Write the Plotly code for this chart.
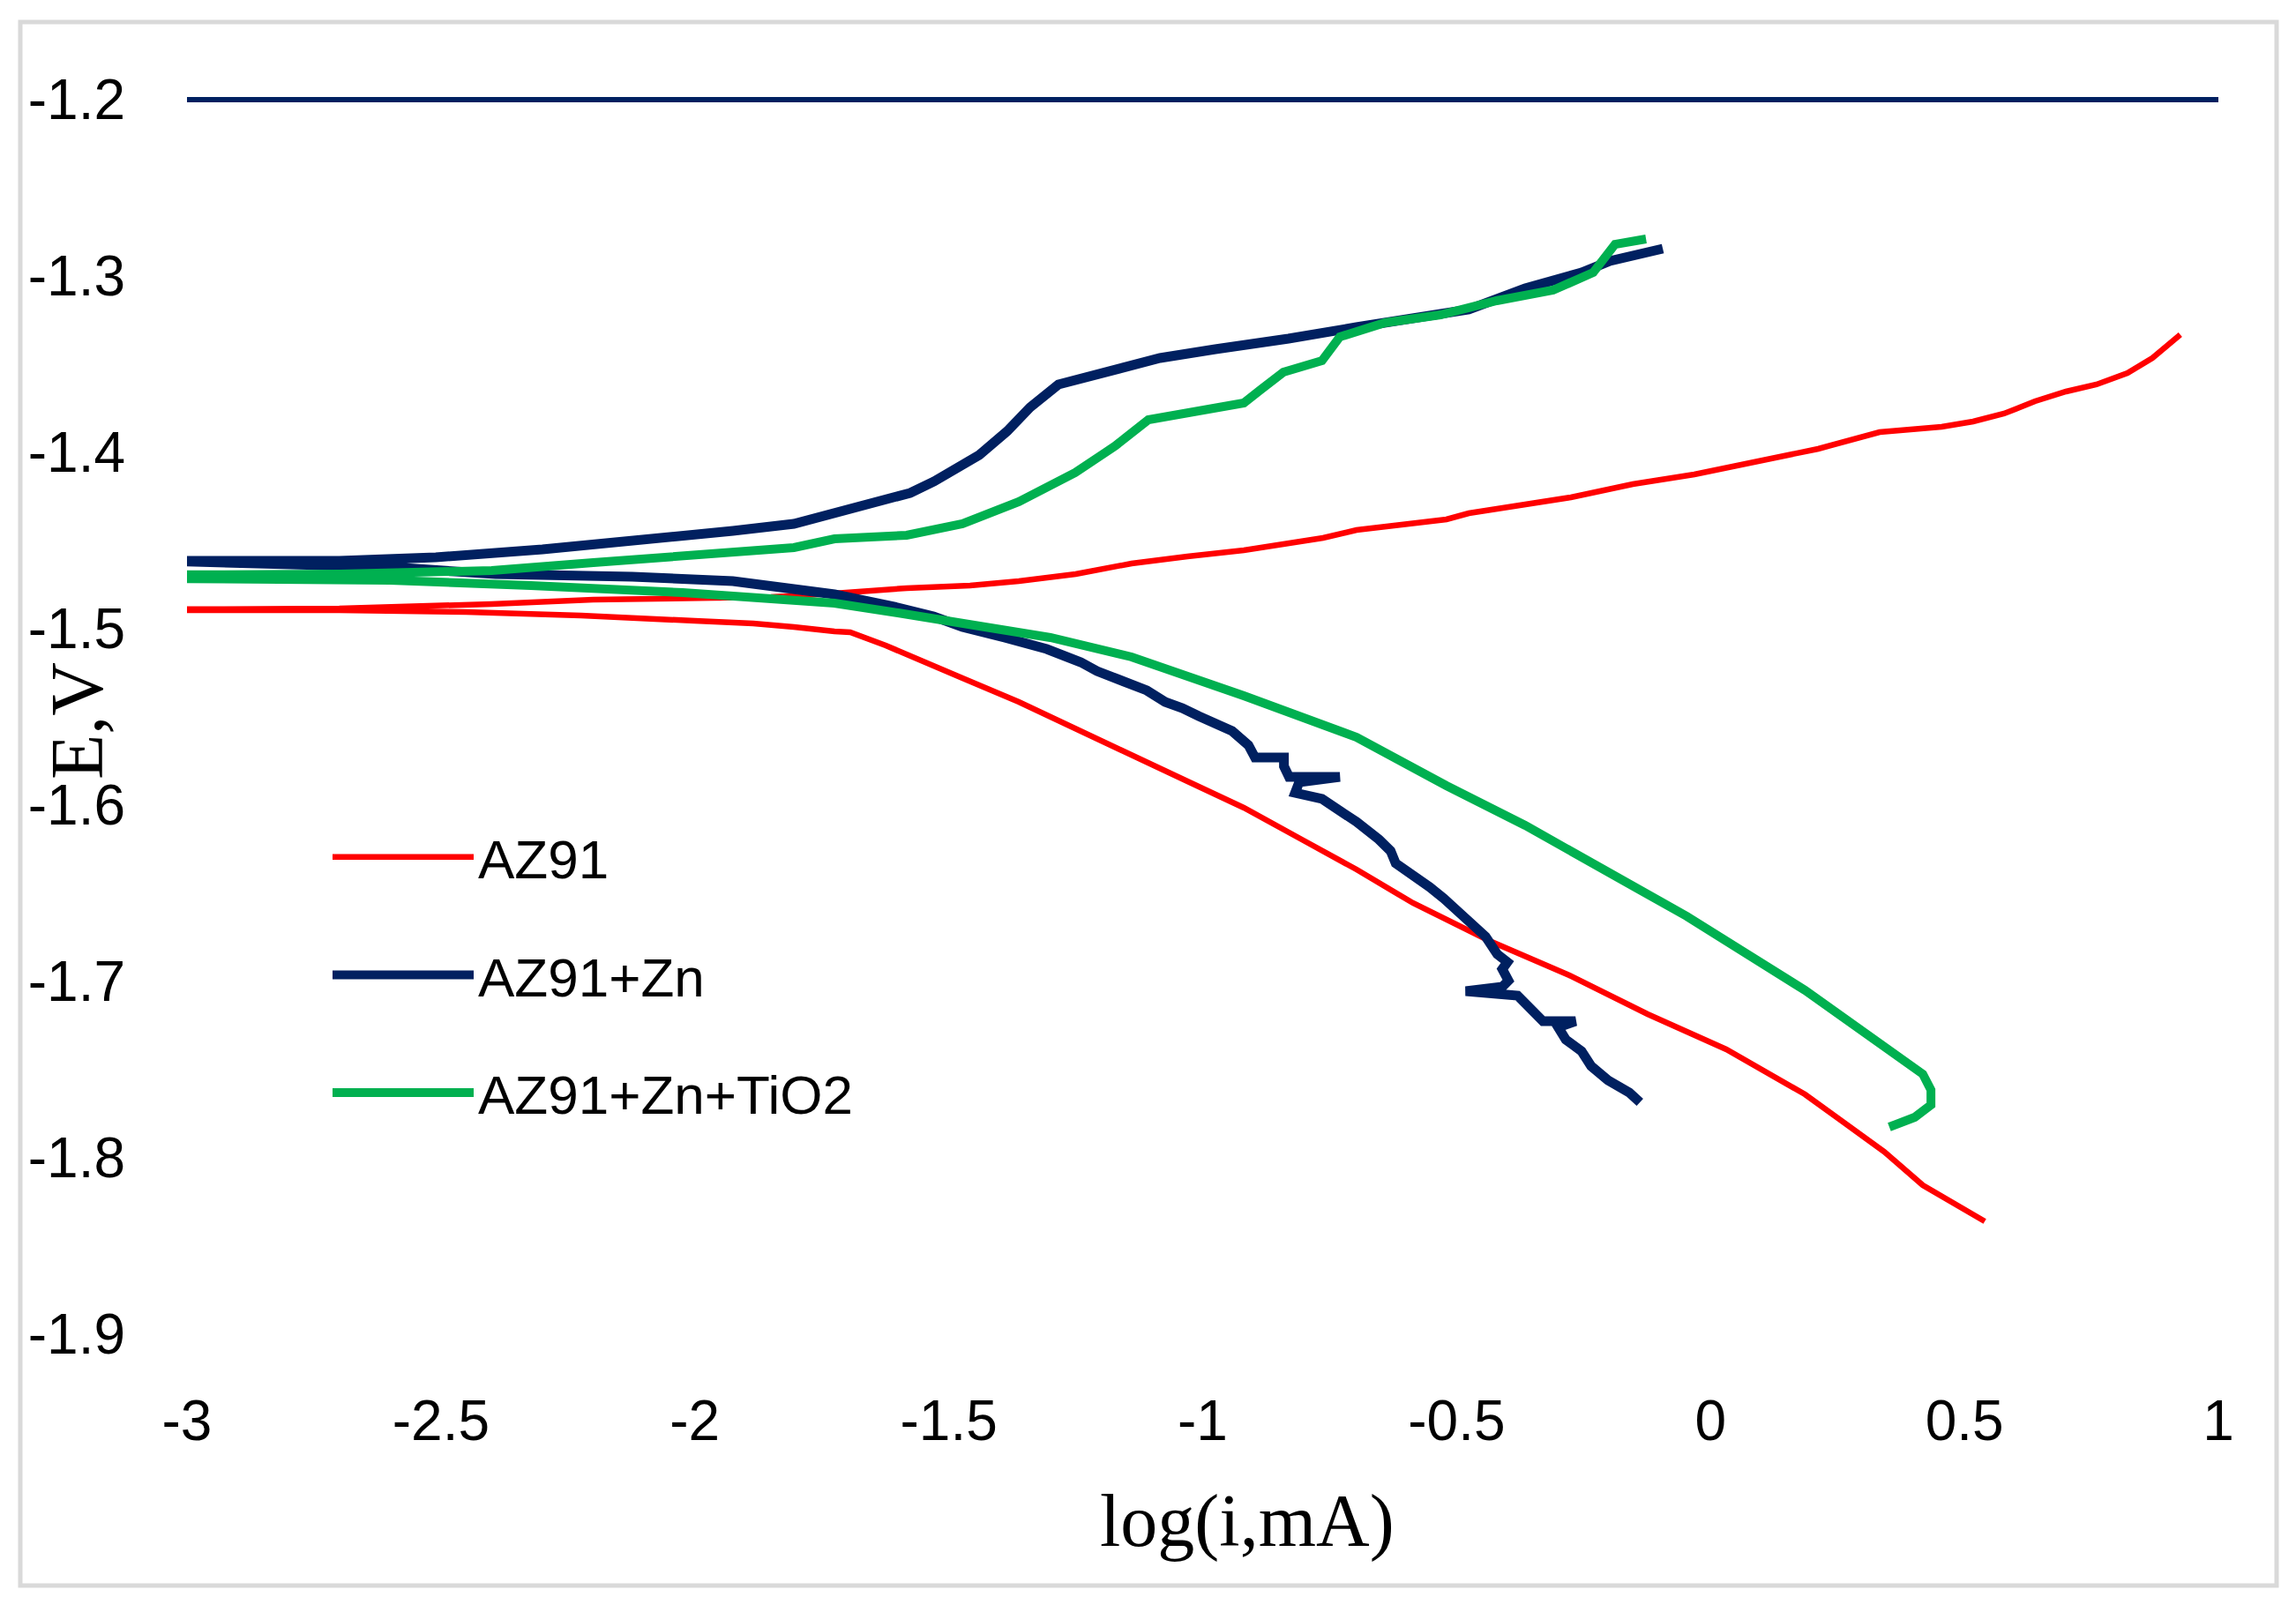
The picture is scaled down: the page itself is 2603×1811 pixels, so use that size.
import plotly.graph_objects as go

# ---------------- data ----------------
series_names = ["AZ91", "AZ91+Zn", "AZ91+Zn+TiO2"]
series_colors = ["#FF0000", "#002060", "#00B050"]

az91_x = [0.540, 0.418, 0.342, 0.264, 0.186, 0.031, -0.124, -0.278, -0.435, -0.586,
          -0.697, -0.808, -0.919, -1.030, -1.140, -1.251, -1.362, -1.473, -1.525, -1.583,
          -1.624, -1.694, -1.725, -1.805, -1.885, -2.000, -2.224, -2.450, -2.700, -3.050,
          -3.050, -2.700, -2.400, -2.200, -2.000, -1.850, -1.727, -1.583, -1.458, -1.362,
          -1.250, -1.140, -1.030, -0.919, -0.763, -0.697, -0.520, -0.476, -0.275, -0.153,
          -0.032, 0.090, 0.212, 0.333, 0.455, 0.517, 0.578, 0.639, 0.700, 0.760,
          0.821, 0.870, 0.925]
az91_y = [-1.8360, -1.8155, -1.7965, -1.7805, -1.7640, -1.7385, -1.7185, -1.6965, -1.6770, -1.6555,
          -1.6365, -1.6190, -1.6015, -1.5865, -1.5715, -1.5570, -1.5415, -1.5280, -1.5215, -1.5145,
          -1.5095, -1.5020, -1.5015, -1.4990, -1.4970, -1.4955, -1.4925, -1.4905, -1.4895, -1.4895,
          -1.4890, -1.4885, -1.4860, -1.4835, -1.4825, -1.4820, -1.4800, -1.4770, -1.4755, -1.4730,
          -1.4690, -1.4630, -1.4590, -1.4555, -1.4485, -1.4440, -1.4380, -1.4345, -1.4255, -1.4180,
          -1.4125, -1.4055, -1.3980, -1.3885, -1.3855, -1.3825, -1.3780, -1.3710, -1.3655, -1.3615,
          -1.3550, -1.3465, -1.3333]

zn_x = [-0.139, -0.160, -0.202, -0.235, -0.254, -0.285, -0.300, -0.266, -0.330, -0.365,
        -0.380, -0.482, -0.410, -0.398, -0.410, -0.400, -0.420, -0.443, -0.470, -0.497,
        -0.525, -0.553, -0.590, -0.620, -0.630, -0.653, -0.697, -0.730, -0.765, -0.818,
        -0.810, -0.730, -0.830, -0.840, -0.840, -0.897, -0.910, -0.942, -0.975, -1.008,
        -1.040, -1.074, -1.110, -1.140, -1.180, -1.208, -1.240, -1.307, -1.390, -1.473,
        -1.530, -1.600, -1.725, -1.925, -2.123, -2.392, -2.600, -2.800, -3.050,
        -3.050, -2.700, -2.510, -2.300, -2.163, -1.925, -1.805, -1.725, -1.638, -1.576,
        -1.529, -1.440, -1.385, -1.340, -1.284, -1.195, -1.084, -0.975, -0.900, -0.831,
        -0.697, -0.586, -0.476, -0.365, -0.254, -0.198, -0.094]
zn_y = [-1.7685, -1.7630, -1.7560, -1.7480, -1.7395, -1.7330, -1.7260, -1.7225, -1.7225, -1.7130,
        -1.7080, -1.7055, -1.7030, -1.6995, -1.6930, -1.6890, -1.6845, -1.6745, -1.6670, -1.6595,
        -1.6530, -1.6465, -1.6390, -1.6330, -1.6260, -1.6195, -1.6095, -1.6030, -1.5965, -1.5930,
        -1.5870, -1.5840, -1.5840, -1.5780, -1.5730, -1.5730, -1.5660, -1.5580, -1.5530, -1.5495,
        -1.5450, -1.5415, -1.5350, -1.5320, -1.5270, -1.5240, -1.5190, -1.5115, -1.5050, -1.4990,
        -1.4930, -1.4880, -1.4805, -1.4730, -1.4705, -1.4690, -1.4650, -1.4635, -1.4630,
        -1.4615, -1.4615, -1.4595, -1.4550, -1.4515, -1.4445, -1.4405, -1.4345, -1.4280, -1.4230,
        -1.4165, -1.4015, -1.3880, -1.3745, -1.3615, -1.3545, -1.3465, -1.3415, -1.3390, -1.3355,
        -1.3290, -1.3240, -1.3190, -1.3070, -1.2980, -1.2915, -1.2845]

tio2_x = [0.352, 0.402, 0.434, 0.434, 0.418, 0.342, 0.186, -0.047, -0.198, -0.365,
          -0.520, -0.697, -0.919, -1.140, -1.300, -1.473, -1.600, -1.725, -2.024, -2.323,
          -2.600, -3.050,
          -3.050, -2.700, -2.400, -2.200, -2.024, -1.805, -1.725, -1.583, -1.473, -1.362,
          -1.251, -1.173, -1.107, -1.030, -0.919, -0.886, -0.841, -0.765, -0.730, -0.641,
          -0.532, -0.421, -0.310, -0.231, -0.188, -0.127]
tio2_y = [-1.7825, -1.7770, -1.7700, -1.7615, -1.7525, -1.7370, -1.7050, -1.6630, -1.6380, -1.6115,
          -1.5890, -1.5615, -1.5380, -1.5160, -1.5050, -1.4965, -1.4910, -1.4855, -1.4795, -1.4755,
          -1.4725, -1.4715,
          -1.4695, -1.4690, -1.4670, -1.4625, -1.4590, -1.4540, -1.4490, -1.4470, -1.4405, -1.4280,
          -1.4115, -1.3965, -1.3815, -1.3780, -1.3720, -1.3645, -1.3545, -1.3480, -1.3345, -1.3265,
          -1.3220, -1.3140, -1.3080, -1.2980, -1.2820, -1.2790]

series_x = [az91_x, zn_x, tio2_x]
series_y = [az91_y, zn_y, tio2_y]
series_widths = [6.5, 11, 10]

x_tickvals = [-3, -2.5, -2, -1.5, -1, -0.5, 0, 0.5, 1]
x_ticktext = ["-3", "-2.5", "-2", "-1.5", "-1", "-0.5", "0", "0.5", "1"]
y_tickvals = [-1.2, -1.3, -1.4, -1.5, -1.6, -1.7, -1.8, -1.9]
y_ticktext = ["-1.2", "-1.3", "-1.4", "-1.5", "-1.6", "-1.7", "-1.8", "-1.9"]

x_title = "log(i,mA)"
y_title = "E,V"
axis_line_value = -1.2

# ---------------- figure ----------------
W, H = 2603, 1811
L, R, T, B = 212, 88, 73, 298
y_range = [-1.9, -1.18]
x_range = [-3, 1]

fig = go.Figure()
for name, xs, ys, col, w in zip(series_names, series_x, series_y, series_colors, series_widths):
    fig.add_trace(go.Scatter(x=xs, y=ys, mode="lines", name=name, legendgroup=name,
                             line=dict(color=col, width=w)))

# horizontal axis line at E = -1.2 (navy)
fig.add_shape(type="line", xref="x", yref="y", x0=x_range[0], x1=x_range[1],
              y0=axis_line_value, y1=axis_line_value,
              line=dict(color="#002060", width=6), layer="above")

pw = W - L - R
ph = H - T - B
def px2paper_x(px):
    return (px - L) / pw
def px2paper_y(py):
    return (H - B - py) / ph

# outer chart border
fig.add_shape(type="rect", xref="paper", yref="paper",
              x0=px2paper_x(23), x1=px2paper_x(2581), y0=px2paper_y(1798), y1=px2paper_y(25),
              line=dict(color="#D9D9D9", width=5), fillcolor="rgba(0,0,0,0)", layer="below")

fig.add_annotation(text=x_title, xref="paper", yref="paper", x=px2paper_x(1414), y=px2paper_y(1725),
                   showarrow=False, xanchor="center", yanchor="middle",
                   font=dict(family="Liberation Serif, Times New Roman, serif", size=84, color="black"))
fig.add_annotation(text=y_title, xref="paper", yref="paper", x=px2paper_x(87), y=px2paper_y(818),
                   showarrow=False, textangle=-90, xanchor="center", yanchor="middle",
                   font=dict(family="Liberation Serif, Times New Roman, serif", size=84, color="black"))

tick_font = dict(family="Liberation Sans, Arial, sans-serif", size=64, color="black")
fig.update_xaxes(range=x_range, tickvals=x_tickvals, ticktext=x_ticktext, showgrid=False,
                 zeroline=False, showline=False, ticks="", tickfont=tick_font,
                 ticklabelstandoff=55)
fig.update_yaxes(range=y_range, tickvals=y_tickvals, ticktext=y_ticktext, showgrid=False,
                 zeroline=False, showline=False, ticks="", tickfont=tick_font,
                 ticklabelstandoff=69)

fig.update_layout(
    width=W, height=H,
    margin=dict(l=L, r=R, t=T, b=B, autoexpand=False),
    paper_bgcolor="white", plot_bgcolor="white",
    showlegend=True,
    legend=dict(x=px2paper_x(372), y=px2paper_y(925), xanchor="left", yanchor="top",
                font=dict(family="Liberation Sans, Arial, sans-serif", size=62, color="black"),
                bgcolor="rgba(0,0,0,0)", itemwidth=160, tracegroupgap=50),
)

fig.write_html("out.html", config={"displayModeBar": False},
               post_script="document.body.style.margin='0px';")
